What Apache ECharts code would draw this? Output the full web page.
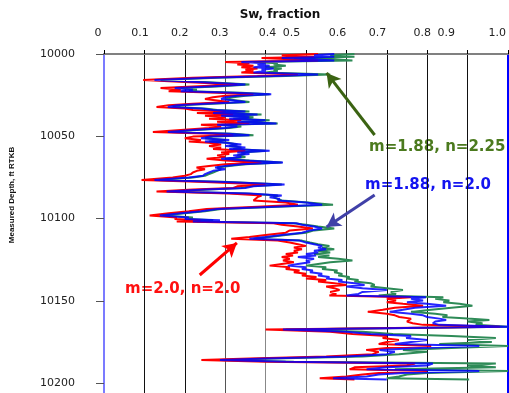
<!DOCTYPE html>
<html><head><meta charset="utf-8">
<script src="https://cdn.jsdelivr.net/npm/echarts@6/dist/echarts.min.js"></script>
<style>html,body{margin:0;padding:0;background:#fff}#c{width:509px;height:393px}</style>
</head><body><div id="c"></div>
<script>
// Measured depth (ft RTKB)
const depth = [
10000.0,10000.8,10001.6,10002.4,10003.2,10004.0,10004.8,10005.6,10006.4,10007.2,
10008.0,10008.8,10009.6,10010.4,10011.3,10012.4,10013.4,10014.5,10015.8,10017.0,
10018.6,10019.7,10020.7,10021.7,10022.7,10023.6,10024.4,10025.3,10026.3,10027.3,
10028.2,10029.2,10030.2,10031.2,10032.2,10033.1,10034.0,10034.9,10035.8,10036.7,
10037.5,10038.4,10039.3,10040.2,10041.2,10042.2,10043.0,10044.0,10045.0,10046.2,
10047.4,10048.4,10049.3,10050.2,10051.2,10052.2,10053.1,10054.0,10055.0,10055.9,
10056.8,10057.7,10058.8,10059.8,10060.7,10061.6,10062.6,10063.7,10064.7,10065.9,
10067.0,10068.0,10069.0,10070.0,10071.0,10072.0,10073.0,10074.0,10075.0,10076.6,
10077.8,10079.3,10080.4,10081.4,10082.4,10083.6,10084.8,10086.0,10087.0,10088.0,
10089.0,10090.3,10091.6,10092.8,10094.2,10095.5,10096.8,10098.2,10099.4,10100.2,
10101.0,10101.8,10102.8,10103.8,10104.8,10106.0,10107.2,10108.6,10110.0,10111.2,
10112.2,10113.4,10114.6,10115.6,10116.6,10117.6,10118.6,10119.6,10120.6,10121.6,
10122.4,10123.4,10124.4,10125.5,10126.6,10127.6,10128.6,10129.6,10130.6,10131.6,
10132.6,10133.6,10134.6,10135.5,10136.4,10137.3,10138.3,10139.3,10140.3,10141.3,
10142.3,10143.4,10144.6,10145.8,10146.8,10147.8,10148.8,10149.8,10150.8,10151.8,
10153.0,10154.2,10155.4,10156.7,10157.8,10158.8,10159.8,10160.8,10161.6,10162.6,
10163.6,10164.6,10165.8,10167.4,10168.8,10170.2,10171.4,10172.6,10173.8,10175.0,
10176.2,10177.4,10178.6,10179.8,10181.0,10182.4,10183.8,10185.0,10186.0,10187.0,
10188.1,10189.3,10190.4,10191.6,10192.6,10193.8,10194.8,10196.0,10197.0,10197.8
];
// Sw, m=2.0, n=2.0
const swRed = [
0.53,0.44,0.52,0.39,0.46,0.53,0.30,0.36,0.33,0.37,
0.34,0.38,0.35,0.37,0.34,0.48,0.38,0.22,0.097,0.20,
0.33,0.22,0.14,0.19,0.16,0.28,0.37,0.30,0.27,0.25,
0.28,0.31,0.22,0.16,0.13,0.20,0.22,0.30,0.23,0.32,
0.25,0.30,0.26,0.34,0.28,0.36,0.24,0.29,0.26,0.19,
0.121,0.27,0.32,0.22,0.20,0.24,0.21,0.26,0.29,0.26,
0.29,0.27,0.35,0.29,0.31,0.28,0.30,0.254,0.30,0.39,
0.30,0.26,0.229,0.25,0.23,0.22,0.215,0.20,0.17,0.093,
0.25,0.40,0.33,0.32,0.22,0.13,0.31,0.39,0.38,0.38,
0.37,0.45,0.48,0.38,0.254,0.21,0.16,0.113,0.18,0.175,
0.24,0.18,0.42,0.44,0.48,0.517,0.46,0.45,0.40,0.36,
0.315,0.43,0.46,0.48,0.50,0.47,0.49,0.47,0.48,0.45,
0.468,0.44,0.46,0.443,0.47,0.44,0.41,0.46,0.45,0.484,
0.47,0.50,0.49,0.526,0.50,0.55,0.53,0.57,0.60,0.55,
0.57,0.583,0.56,0.575,0.558,0.76,0.70,0.723,0.70,0.74,
0.79,0.72,0.69,0.653,0.70,0.72,0.731,0.76,0.764,0.75,
0.764,0.79,0.98,0.40,0.56,0.615,0.70,0.69,0.73,0.70,
0.68,0.81,0.70,0.649,0.68,0.665,0.55,0.36,0.241,0.40,
0.77,0.75,0.62,0.608,0.80,0.68,0.64,0.60,0.534,0.62
];
// Sw, m=1.88, n=2.0
const swBlue = [
0.57,0.52,0.57,0.44,0.52,0.57,0.34,0.40,0.38,0.41,
0.37,0.42,0.39,0.40,0.37,0.53,0.42,0.26,0.125,0.23,
0.35,0.26,0.175,0.22,0.19,0.32,0.414,0.33,0.30,0.29,
0.32,0.35,0.25,0.18,0.158,0.24,0.27,0.35,0.27,0.38,
0.29,0.36,0.31,0.40,0.33,0.427,0.28,0.33,0.30,0.22,
0.158,0.31,0.36,0.26,0.24,0.31,0.25,0.30,0.34,0.30,
0.35,0.31,0.41,0.33,0.36,0.32,0.34,0.29,0.35,0.443,
0.34,0.30,0.275,0.30,0.27,0.26,0.25,0.245,0.21,0.125,
0.30,0.447,0.37,0.35,0.25,0.155,0.36,0.44,0.41,0.435,
0.43,0.50,0.54,0.42,0.28,0.24,0.19,0.138,0.21,0.20,
0.287,0.22,0.476,0.49,0.52,0.54,0.51,0.49,0.44,0.40,
0.36,0.484,0.50,0.52,0.54,0.53,0.55,0.52,0.53,0.50,
0.525,0.48,0.52,0.50,0.51,0.48,0.455,0.50,0.49,0.517,
0.51,0.54,0.53,0.558,0.55,0.59,0.58,0.62,0.645,0.60,
0.64,0.70,0.64,0.63,0.60,0.797,0.76,0.79,0.75,0.80,
0.847,0.77,0.74,0.707,0.76,0.79,0.80,0.83,0.847,0.82,
0.814,0.83,1.0,0.443,0.60,0.66,0.76,0.748,0.80,0.76,
0.72,0.929,0.78,0.682,0.72,0.70,0.60,0.40,0.287,0.45,
0.814,0.80,0.70,0.65,0.929,0.74,0.68,0.65,0.567,0.70
];
// Sw, m=1.88, n=2.25
const swGreen = [
0.62,0.56,0.62,0.47,0.57,0.615,0.37,0.43,0.42,0.45,
0.40,0.44,0.42,0.43,0.40,0.56,0.45,0.28,0.14,0.25,
0.36,0.28,0.19,0.23,0.21,0.34,0.41,0.35,0.32,0.30,
0.33,0.36,0.27,0.19,0.17,0.25,0.28,0.36,0.28,0.39,
0.30,0.37,0.32,0.41,0.34,0.43,0.29,0.34,0.31,0.23,
0.165,0.32,0.37,0.27,0.25,0.30,0.26,0.31,0.33,0.31,
0.34,0.32,0.40,0.34,0.35,0.33,0.35,0.30,0.36,0.44,
0.35,0.31,0.28,0.29,0.28,0.27,0.26,0.25,0.22,0.135,
0.31,0.44,0.36,0.34,0.26,0.16,0.35,0.43,0.42,0.43,
0.44,0.505,0.567,0.43,0.29,0.25,0.20,0.145,0.22,0.21,
0.27,0.23,0.47,0.50,0.53,0.57,0.52,0.50,0.45,0.41,
0.37,0.49,0.51,0.53,0.558,0.54,0.57,0.53,0.56,0.52,
0.558,0.53,0.58,0.615,0.56,0.53,0.50,0.55,0.54,0.578,
0.57,0.59,0.58,0.608,0.60,0.63,0.62,0.66,0.67,0.66,
0.70,0.74,0.71,0.723,0.68,0.84,0.82,0.855,0.84,0.88,
0.912,0.86,0.81,0.76,0.82,0.85,0.838,0.90,0.954,0.90,
0.937,0.92,1.0,0.45,0.64,0.715,0.86,0.97,0.90,0.96,
0.83,1.0,0.86,0.74,0.80,0.73,0.64,0.42,0.29,0.47,
0.97,0.90,0.97,0.72,1.0,0.80,0.75,0.73,0.70,0.904
];
const xTickLabels = ['0','0.1','0.2','0.3','0.4','0.5','0.6','0.7','0.8','0.9','1.0'];
const yTickStep = 50;

// label horizontal offsets (px) to mimic the original placement
const xLabelShift = [-6,-4.5,-5,-5.4,2,-14.4,-8.8,-9.3,-4.8,-21.2,-10.7];
const rich = {};
xLabelShift.forEach((s, i) => {
  rich['t' + i] = {
    fontFamily: 'DejaVu Sans', fontSize: 11, color: '#222',
    padding: s < 0 ? [0, -2 * s, 0, 0] : [0, 0, 0, 2 * s]
  };
});

const pairs = arr => depth.map((d, i) => [arr[i], d]);
const FONT = 'DejaVu Sans';

const chart = echarts.init(document.getElementById('c'), null, {renderer: 'canvas'});
chart.setOption({
  animation: false,
  backgroundColor: '#fff',
  grid: {left: 104, right: 1, top: 54, bottom: 0, containLabel: false},
  xAxis: {
    type: 'value', position: 'top', min: 0, max: 1, interval: 0.1,
    axisLine: {show: true, lineStyle: {color: '#808080', width: 2}},
    axisTick: {show: true, length: 4, lineStyle: {color: '#000'}},
    axisLabel: {
      margin: 15,
      formatter: (v) => {
        const i = Math.round(v * 10);
        return '{t' + i + '|' + xTickLabels[i] + '}';
      },
      rich: rich
    },
    splitLine: {show: true, lineStyle: {width: 1,
      color: ['#8080ff','#111','#111','#555','#888','#888','#333','#111','#111','#111','#0000ff']}}
  },
  yAxis: [{
    type: 'value', inverse: true, min: 10000, max: 10206, interval: yTickStep,
    axisLine: {show: true, lineStyle: {color: '#7b7bff', width: 2}},
    axisTick: {show: true, length: 8, lineStyle: {color: '#555'}},
    axisLabel: {margin: 29, fontFamily: FONT, fontSize: 11, color: '#222', showMaxLabel: false,
      formatter: (v) => String(v)},
    splitLine: {show: false}
  }, {
    type: 'value', inverse: true, min: 10000, max: 10206, interval: yTickStep, position: 'right',
    axisLine: {show: true, lineStyle: {color: '#0000ff', width: 2}},
    axisTick: {show: false}, axisLabel: {show: false}, splitLine: {show: false}
  }],
  series: [
    {name: 'm=1.88, n=2.25', type: 'line', data: pairs(swGreen), showSymbol: false,
     lineStyle: {color: '#2e8b57', width: 2}, z: 2,
     markLine: {silent: true, symbol: ['none', 'arrow'], symbolSize: [12, 14],
       label: {show: false}, lineStyle: {color: '#3b6312', width: 3, type: 'solid'},
       data: [[{coord: [0.670, 10049.2]}, {coord: [0.551, 10011.5]}]]}},
    {name: 'm=2.0, n=2.0', type: 'line', data: pairs(swRed), showSymbol: false,
     lineStyle: {color: '#ff0000', width: 2}, z: 3,
     markLine: {silent: true, symbol: ['none', 'arrow'], symbolSize: [12, 14],
       label: {show: false}, lineStyle: {color: '#ff0000', width: 3, type: 'solid'},
       data: [[{coord: [0.237, 10134.3]}, {coord: [0.329, 10114.8]}]]}},
    {name: 'm=1.88, n=2.0', type: 'line', data: pairs(swBlue), showSymbol: false,
     lineStyle: {color: '#0000ff', width: 2, opacity: 0.85}, z: 4,
     markLine: {silent: true, symbol: ['none', 'arrow'], symbolSize: [12, 14],
       label: {show: false}, lineStyle: {color: '#4040a8', width: 3, type: 'solid', opacity: 1},
       data: [[{coord: [0.670, 10085.7]}, {coord: [0.551, 10105.1]}]]}}
  ],
  graphic: [
    {type: 'text', x: 280, y: 15, style: {text: 'Sw, fraction', font: 'bold 12px "DejaVu Sans"', fill: '#111', align: 'center', verticalAlign: 'middle'}},
    {type: 'text', x: 12, y: 195, rotation: Math.PI / 2, style: {text: 'Measured Depth, ft RTKB', font: 'bold 8px "Liberation Sans", "DejaVu Sans", sans-serif', fill: '#111', align: 'center', verticalAlign: 'middle'}},
    {type: 'text', x: 369, y: 147, style: {text: 'm=1.88, n=2.25', font: 'bold 15px "DejaVu Sans"', fill: '#4b7a1e', align: 'left', verticalAlign: 'middle'}},
    {type: 'text', x: 365, y: 185, style: {text: 'm=1.88, n=2.0', font: 'bold 15px "DejaVu Sans"', fill: '#1414f0', align: 'left', verticalAlign: 'middle'}},
    {type: 'text', x: 125, y: 289, style: {text: 'm=2.0, n=2.0', font: 'bold 15px "DejaVu Sans"', fill: '#ff1010', align: 'left', verticalAlign: 'middle'}}
  ]
});
</script>
</body></html>
